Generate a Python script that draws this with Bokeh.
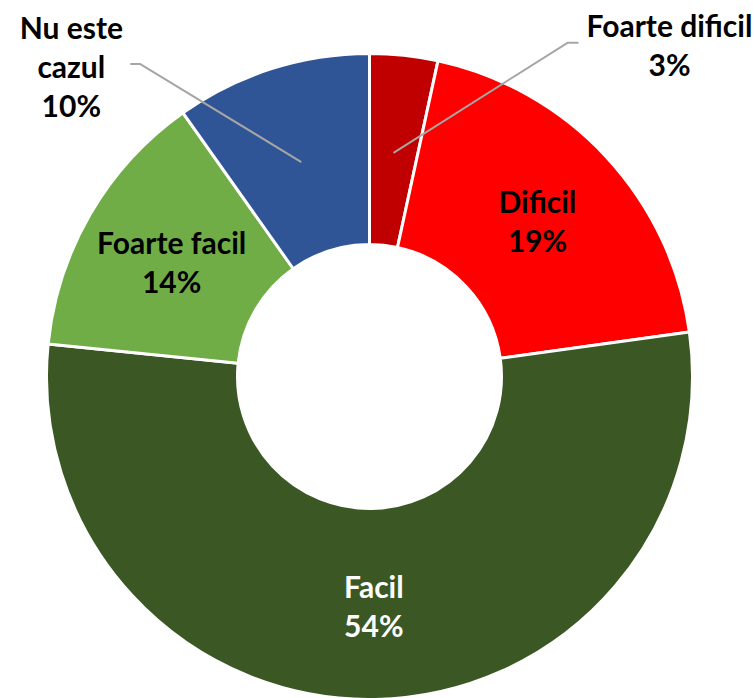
import numpy as np
from bokeh.plotting import figure
from bokeh.models import ColumnDataSource, Range1d
from bokeh.core.properties import value
from bokeh.embed import file_html
from bokeh.resources import INLINE

# ---- data ----
categories = ["Foarte dificil", "Dificil", "Facil", "Foarte facil", "Nu este cazul"]
label_names = ["Foarte dificil", "Dificil", "Facil", "Foarte facil", "Nu este\ncazul"]
values = [3.4, 19.4, 53.8, 13.6, 9.8]
colors = ["#C00000", "#FF0000", "#3A5724", "#70AD47", "#2F5597"]
label_colors = ["black", "black", "white", "black", "black"]

# ---- layout ----
W, H = 754, 698
cx, cy = 369, H - 376
r_in, r_out = 132, 323
r_lab = 229
FONT = "Lato"
FS = "30px"
LH = 1.08

frac = np.array(values) / sum(values)
cum = np.concatenate([[0.0], np.cumsum(frac)])
start = np.pi / 2 - 2 * np.pi * cum[:-1]
end = np.pi / 2 - 2 * np.pi * cum[1:]
mid = (start + end) / 2

p = figure(width=W, height=H, output_backend="svg", toolbar_location=None,
           x_range=Range1d(0, W), y_range=Range1d(0, H), min_border=0)
p.axis.visible = False
p.grid.visible = False
p.outline_line_color = None
p.background_fill_color = "white"

src = ColumnDataSource(dict(start=start, end=end, color=colors, cat=categories))
p.annular_wedge(x=cx, y=cy, inner_radius=r_in, outer_radius=r_out,
                start_angle="start", end_angle="end", direction="clock",
                fill_color="color", line_color="white", line_width=3, source=src)

texts = [f"{n}\n{round(v)}%" for n, v in zip(label_names, values)]

# inside labels
inside = [1, 2, 3]
lx = [cx + r_lab * np.cos(mid[i]) for i in inside]
ly = [cy + r_lab * np.sin(mid[i]) for i in inside]
p.text(x=lx, y=ly, text=[texts[i] for i in inside],
       text_color=[label_colors[i] for i in inside],
       text_font=value(FONT), text_font_style="bold", text_font_size=FS,
       text_align="center", text_baseline="middle", text_line_height=LH)

# outside labels with leader lines
r_lead = 225
# (elbow dx, elbow dy, end dx, label dx, label dy) relative to anchor, in px
outside = {0: (174, 110, 11, 276, 108), 4: (-161, 98, -10, -230, 96)}
for i, (ex, ey, hx, tx, ty) in outside.items():
    ax = cx + r_lead * np.cos(mid[i])
    ay = cy + r_lead * np.sin(mid[i])
    p.line([ax, ax + ex, ax + ex + hx], [ay, ay + ey, ay + ey],
           line_color="#A6A6A6", line_width=2)
    p.text(x=[ax + tx], y=[ay + ty], text=[texts[i]], text_color=label_colors[i],
           text_font=value(FONT), text_font_style="bold", text_font_size=FS,
           text_align="center", text_baseline="middle", text_line_height=LH)

open("out.html", "w").write(file_html(p, INLINE))
